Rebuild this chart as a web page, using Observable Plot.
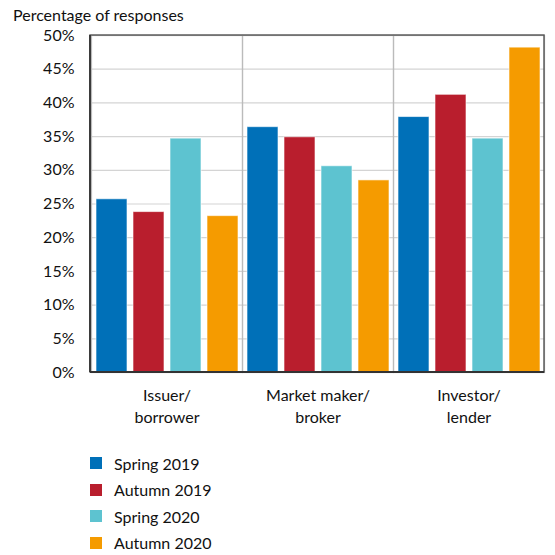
<!DOCTYPE html>
<html><head><meta charset="utf-8">
<script src="https://cdn.jsdelivr.net/npm/d3@7"></script>
<script src="https://cdn.jsdelivr.net/npm/@observablehq/plot@0.6"></script>
<style>
body{margin:0;background:#fff;font-family:Lato,"Open Sans",sans-serif;color:#111;width:555px;}
#title{height:26px;line-height:30px;font-size:16px;padding-left:13px;}
#legend{margin-left:90px;margin-top:20px;font-size:16px;}
.li{display:flex;align-items:center;height:26.5px;}
.sw{width:12px;height:12px;margin-right:12px;}
</style></head><body>
<div id="title">Percentage of responses</div>
<div id="chart"></div>
<div id="legend"></div>
<script>
const categories = ["Issuer/\nborrower", "Market maker/\nbroker", "Investor/\nlender"];
const seriesNames = ["Spring 2019", "Autumn 2019", "Spring 2020", "Autumn 2020"];
const colors = ["#0070b8", "#b91e2d", "#5dc3d0", "#f59b00"];
const spring2019 = [25.7, 36.4, 37.9];
const autumn2019 = [23.8, 34.9, 41.2];
const spring2020 = [34.7, 30.6, 34.7];
const autumn2020 = [23.2, 28.5, 48.2];
const yTicks = [0, 5, 10, 15, 20, 25, 30, 35, 40, 45, 50];

const allSeries = [spring2019, autumn2019, spring2020, autumn2020];
const data = [];
categories.forEach((c, i) => allSeries.forEach((s, j) => data.push({category: c, series: seriesNames[j], value: s[i]})));

const chart = Plot.plot({
  width: 555,
  height: 404,
  marginLeft: 90,
  marginRight: 11,
  marginTop: 9,
  marginBottom: 58,
  style: {fontFamily: "Lato, 'Open Sans', sans-serif", fontSize: "16px", color: "#111"},
  fx: {domain: categories, paddingInner: 0, paddingOuter: 0, label: null},
  x: {domain: seriesNames, paddingInner: 0.17, paddingOuter: 0.1, axis: null},
  y: {domain: [0, 50], ticks: yTicks, label: null},
  color: {domain: seriesNames, range: colors},
  marks: [
    Plot.ruleY(yTicks.slice(1), {stroke: "#d4d4d4", strokeWidth: 1.2}),
    Plot.frame({stroke: "#bbbbbb", strokeWidth: 1.2}),
    Plot.barY(data, {fx: "category", x: "series", y: "value", fill: "series", stroke: "white", strokeOpacity: 0.6, strokeWidth: 1}),
    Plot.axisY({ticks: yTicks, tickSize: 0, tickPadding: 17, tickFormat: d => d + "%", label: null, fontSize: 16}),
    Plot.axisFx({anchor: "bottom", tickSize: 0, tickPadding: 13, label: null, lineHeight: 1.38, fontSize: 16})
  ]
});
document.getElementById("chart").appendChild(chart);

// Outer plot border: dark gray top/right, darker left/bottom
const svg = d3.select(chart);
const y0 = 404 - 58, x1 = 555 - 11;
svg.append("rect").attr("x", 90).attr("y", 9).attr("width", x1 - 90).attr("height", y0 - 9).attr("fill", "none").attr("stroke", "#555").attr("stroke-width", 1.4);
svg.append("line").attr("x1", 90).attr("x2", x1).attr("y1", y0).attr("y2", y0).attr("stroke", "#333").attr("stroke-width", 1.8);
svg.append("line").attr("x1", 90).attr("x2", 90).attr("y1", 9).attr("y2", y0).attr("stroke", "#333").attr("stroke-width", 1.8);

const legend = document.getElementById("legend");
seriesNames.forEach((n, i) => {
  const d = document.createElement("div"); d.className = "li";
  d.innerHTML = `<span class="sw" style="background:${colors[i]}"></span><span>${n}</span>`;
  legend.appendChild(d);
});
</script>
</body></html>
